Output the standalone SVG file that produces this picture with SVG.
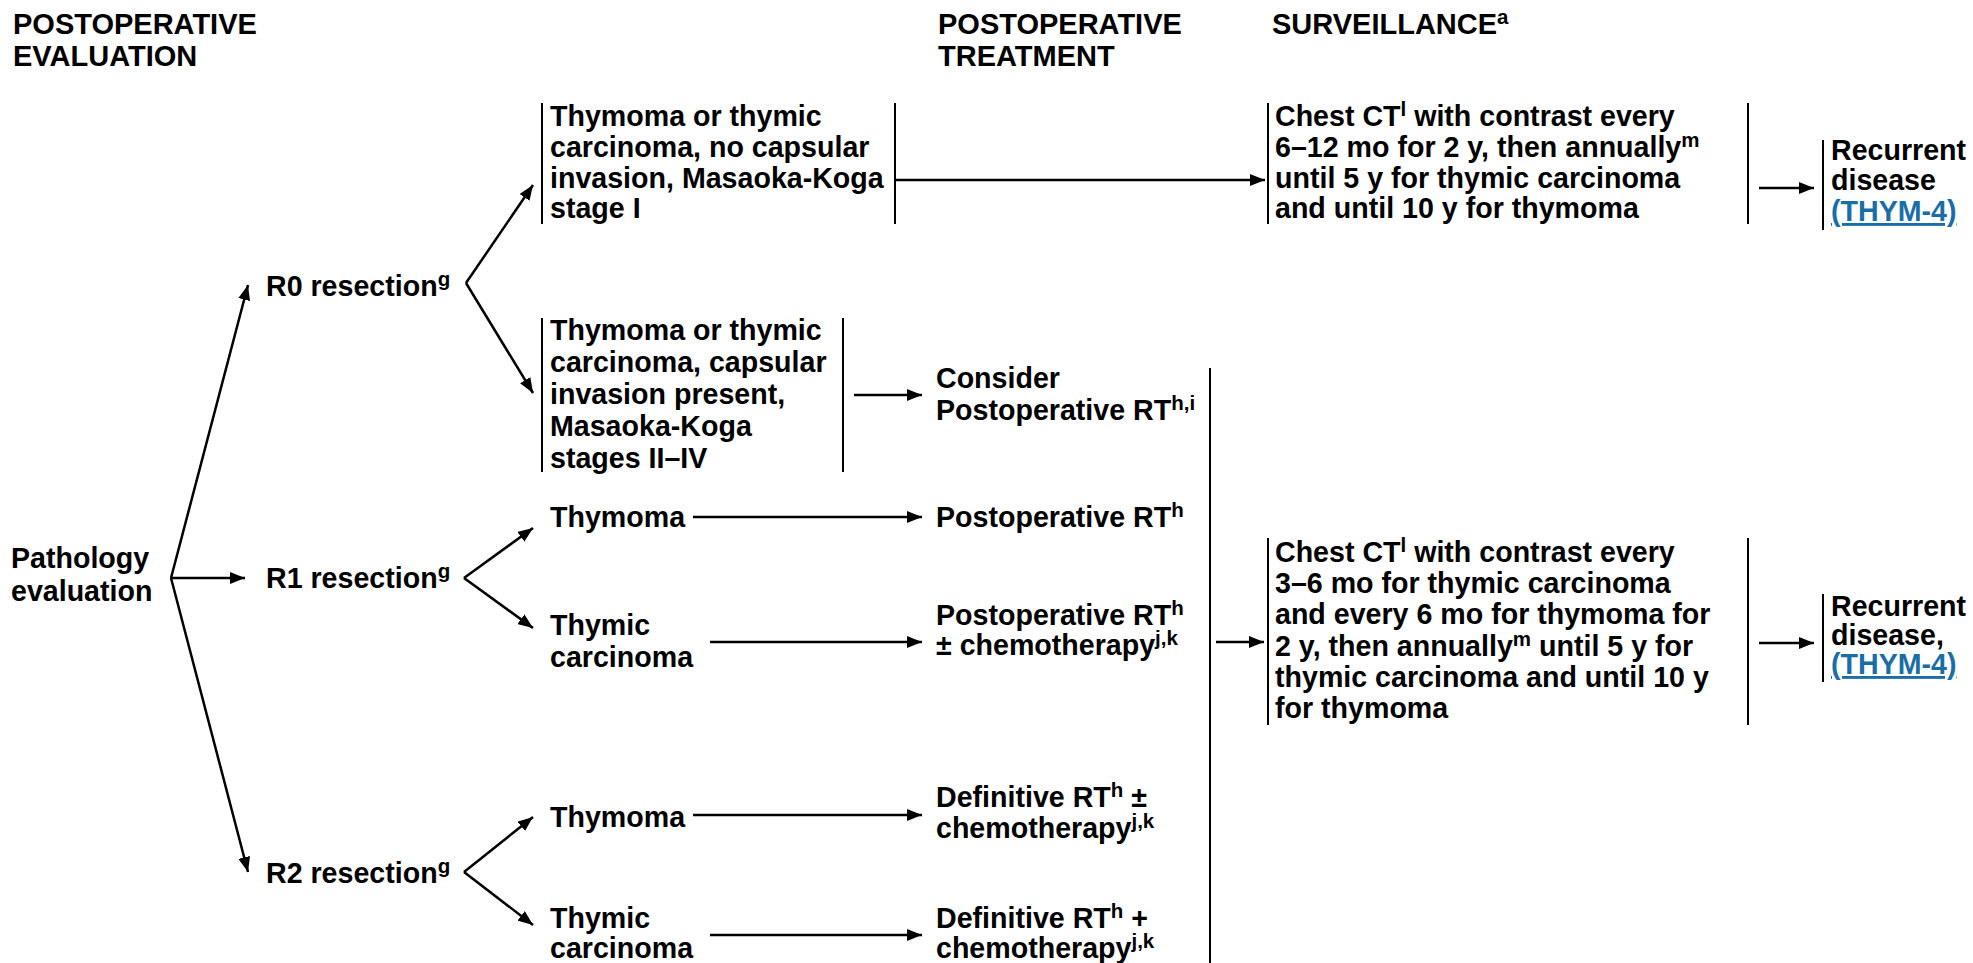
<svg xmlns="http://www.w3.org/2000/svg" width="1973" height="963" viewBox="0 0 1973 963">
<style>
text{font-family:"Liberation Sans",Arial,sans-serif;font-weight:bold;font-size:28.6px;fill:#000}
.hd{font-size:29px}
.sup{font-size:20.5px}
.link{fill:#1a6ea8;text-decoration:underline}
.bar{stroke:#000;stroke-width:2;fill:none}
.ln{stroke:#000;stroke-width:2.5;fill:none;marker-end:url(#ah)}
</style>
<defs>
<marker id="ah" markerUnits="userSpaceOnUse" markerWidth="15" markerHeight="12" refX="15" refY="6" orient="auto" viewBox="0 0 15 12">
<path d="M0,0 L15,6 L0,12 z" fill="#000"/>
</marker>
</defs>
<rect width="1973" height="963" fill="#fff"/>

<g id="headers">
<text class="hd" x="13" y="34">POSTOPERATIVE</text>
<text class="hd" x="13" y="66">EVALUATION</text>
<text class="hd" x="938" y="34">POSTOPERATIVE</text>
<text class="hd" x="938" y="66">TREATMENT</text>
<text class="hd" x="1272" y="34">SURVEILLANCE<tspan class="sup" dy="-10">a</tspan></text>
</g>

<g id="n-pathology">
<text x="11" y="568">Pathology</text>
<text x="11" y="601">evaluation</text>
</g>

<g id="n-r0">
<text x="266" y="296">R0 resection<tspan class="sup" dy="-10">g</tspan></text>
</g>
<g id="n-r1">
<text x="266" y="588">R1 resection<tspan class="sup" dy="-10">g</tspan></text>
</g>
<g id="n-r2">
<text x="266" y="883">R2 resection<tspan class="sup" dy="-10">g</tspan></text>
</g>

<g id="n-r0-noinv">
<line class="bar" x1="542" y1="103" x2="542" y2="224"/>
<line class="bar" x1="895" y1="103" x2="895" y2="224"/>
<text x="550" y="126">Thymoma or thymic</text>
<text x="550" y="157">carcinoma, no capsular</text>
<text x="550" y="188">invasion, Masaoka-Koga</text>
<text x="550" y="218">stage I</text>
</g>

<g id="n-r0-inv">
<line class="bar" x1="542" y1="318" x2="542" y2="472"/>
<line class="bar" x1="843" y1="318" x2="843" y2="472"/>
<text x="550" y="340">Thymoma or thymic</text>
<text x="550" y="372">carcinoma, capsular</text>
<text x="550" y="404">invasion present,</text>
<text x="550" y="436">Masaoka-Koga</text>
<text x="550" y="468">stages II–IV</text>
</g>

<g id="n-consider">
<text x="936" y="388">Consider</text>
<text x="936" y="420">Postoperative RT<tspan class="sup" dy="-10">h,i</tspan></text>
</g>

<g id="n-r1-thymoma">
<text x="550" y="527">Thymoma</text>
</g>
<g id="n-r1-port">
<text x="936" y="527">Postoperative RT<tspan class="sup" dy="-10">h</tspan></text>
</g>

<g id="n-r1-carcinoma">
<text x="550" y="635">Thymic</text>
<text x="550" y="667">carcinoma</text>
</g>
<g id="n-r1-port-chemo">
<text x="936" y="625">Postoperative RT<tspan class="sup" dy="-10">h</tspan></text>
<text x="936" y="655">± chemotherapy<tspan class="sup" dy="-10">j,k</tspan></text>
</g>

<g id="n-r2-thymoma">
<text x="550" y="827">Thymoma</text>
</g>
<g id="n-r2-defrt">
<text x="936" y="807">Definitive RT<tspan class="sup" dy="-10">h</tspan><tspan dy="10"> ±</tspan></text>
<text x="936" y="838">chemotherapy<tspan class="sup" dy="-10">j,k</tspan></text>
</g>

<g id="n-r2-carcinoma">
<text x="550" y="928">Thymic</text>
<text x="550" y="958">carcinoma</text>
</g>
<g id="n-r2-defrt-chemo">
<text x="936" y="928">Definitive RT<tspan class="sup" dy="-10">h</tspan><tspan dy="10"> +</tspan></text>
<text x="936" y="958">chemotherapy<tspan class="sup" dy="-10">j,k</tspan></text>
</g>

<g id="n-treat-bracket">
<line class="bar" x1="1210" y1="368" x2="1210" y2="963"/>
</g>

<g id="n-surv1">
<line class="bar" x1="1268" y1="103" x2="1268" y2="224"/>
<line class="bar" x1="1748" y1="103" x2="1748" y2="224"/>
<text x="1275" y="126">Chest CT<tspan class="sup" dy="-10">l</tspan><tspan dy="10"> with contrast every</tspan></text>
<text x="1275" y="157">6–12 mo for 2 y, then annually<tspan class="sup" dy="-10">m</tspan></text>
<text x="1275" y="188">until 5 y for thymic carcinoma</text>
<text x="1275" y="218">and until 10 y for thymoma</text>
</g>

<g id="n-rec1">
<line class="bar" x1="1823" y1="140" x2="1823" y2="230"/>
<text x="1831" y="160">Recurrent</text>
<text x="1831" y="190">disease</text>
<text x="1831" y="221" class="link">(THYM-4)</text>
</g>

<g id="n-surv2">
<line class="bar" x1="1268" y1="538" x2="1268" y2="725"/>
<line class="bar" x1="1748" y1="538" x2="1748" y2="725"/>
<text x="1275" y="562">Chest CT<tspan class="sup" dy="-10">l</tspan><tspan dy="10"> with contrast every</tspan></text>
<text x="1275" y="593">3–6 mo for thymic carcinoma</text>
<text x="1275" y="624">and every 6 mo for thymoma for</text>
<text x="1275" y="656">2 y, then annually<tspan class="sup" dy="-10">m</tspan><tspan dy="10"> until 5 y for</tspan></text>
<text x="1275" y="687">thymic carcinoma and until 10 y</text>
<text x="1275" y="718">for thymoma</text>
</g>

<g id="n-rec2">
<line class="bar" x1="1823" y1="594" x2="1823" y2="682"/>
<text x="1831" y="616">Recurrent</text>
<text x="1831" y="645">disease,</text>
<text x="1831" y="674" class="link">(THYM-4)</text>
</g>

<g id="connectors">
<line class="ln" x1="171" y1="578" x2="248" y2="285"/>
<line class="ln" x1="171" y1="578" x2="245" y2="578"/>
<line class="ln" x1="171" y1="578" x2="248" y2="872"/>
<line class="ln" x1="466" y1="283" x2="533" y2="185"/>
<line class="ln" x1="466" y1="283" x2="533" y2="393"/>
<line class="ln" x1="464" y1="578" x2="533" y2="528"/>
<line class="ln" x1="464" y1="578" x2="533" y2="628"/>
<line class="ln" x1="464" y1="872" x2="533" y2="817"/>
<line class="ln" x1="464" y1="872" x2="533" y2="925"/>
<line class="ln" x1="895" y1="180" x2="1265" y2="180"/>
<line class="ln" x1="854" y1="395" x2="922" y2="395"/>
<line class="ln" x1="693" y1="517" x2="922" y2="517"/>
<line class="ln" x1="710" y1="642" x2="922" y2="642"/>
<line class="ln" x1="693" y1="815" x2="922" y2="815"/>
<line class="ln" x1="710" y1="935" x2="922" y2="935"/>
<line class="ln" x1="1216" y1="642" x2="1264" y2="642"/>
<line class="ln" x1="1759" y1="188" x2="1814" y2="188"/>
<line class="ln" x1="1759" y1="643" x2="1814" y2="643"/>
</g>
</svg>
